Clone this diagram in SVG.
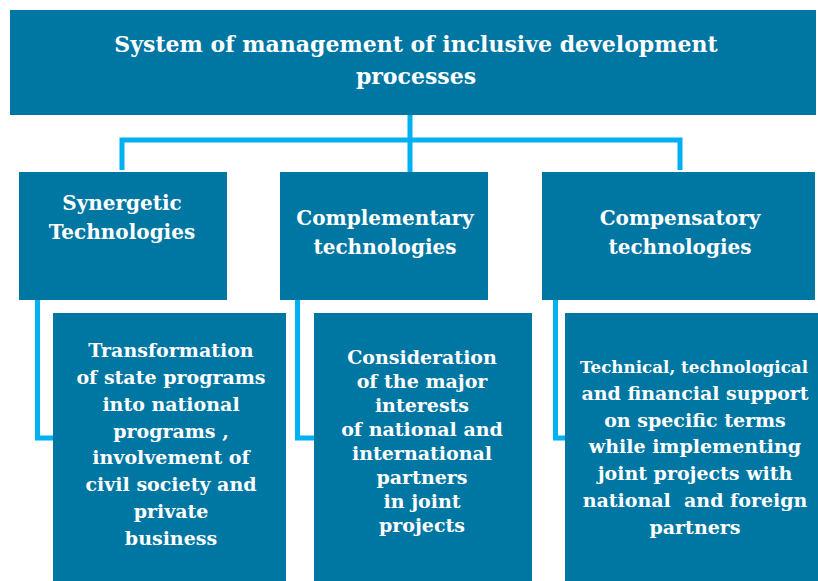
<svg xmlns="http://www.w3.org/2000/svg" width="818" height="581" viewBox="0 0 818 581">
<style>
.box{fill:#0076A3}
.t{font-family:"DejaVu Serif",serif;font-weight:bold;fill:#ffffff;text-anchor:middle;white-space:pre}
.title{font-size:22px}
.h{font-size:20px}
.d{font-size:19px}
.c{fill:none;stroke:#00B0F0;stroke-width:5}
</style>
<rect width="818" height="581" fill="#ffffff"/>
<g id="connectors">
<path class="c" d="M410 114 V172"/>
<path class="c" d="M122 170 V140 H680 V170"/>
<path class="c" d="M37.5 300 V438 H55"/>
<path class="c" d="M297.5 300 V438 H316"/>
<path class="c" d="M555.5 300 V438 H567"/>
</g>
<g id="root">
<rect class="box" x="10" y="10" width="806" height="105"/>
<text class="t title" x="416" y="52">System of management of inclusive development</text>
<text class="t title" x="416" y="84">processes</text>
</g>
<g id="synergetic">
<rect class="box" x="19" y="172" width="208" height="128"/>
<text class="t h" x="122" y="210">Synergetic</text>
<text class="t h" x="122" y="239">Technologies</text>
</g>
<g id="complementary">
<rect class="box" x="280" y="172" width="208" height="128"/>
<text class="t h" x="385" y="225">Complementary</text>
<text class="t h" x="385" y="254">technologies</text>
</g>
<g id="compensatory">
<rect class="box" x="542" y="172" width="273" height="128"/>
<text class="t h" x="680" y="225">Compensatory</text>
<text class="t h" x="680" y="254">technologies</text>
</g>
<g id="detail1">
<rect class="box" x="53" y="313" width="233" height="268"/>
<text class="t d" x="171" y="357">Transformation</text>
<text class="t d" x="171" y="384">of state programs</text>
<text class="t d" x="171" y="411">into national</text>
<text class="t d" x="171" y="438">programs ,</text>
<text class="t d" x="171" y="464">involvement of</text>
<text class="t d" x="171" y="491">civil society and</text>
<text class="t d" x="171" y="518">private</text>
<text class="t d" x="171" y="545">business</text>
</g>
<g id="detail2">
<rect class="box" x="314" y="313" width="218" height="268"/>
<text class="t d" x="422" y="364">Consideration</text>
<text class="t d" x="422" y="388">of the major</text>
<text class="t d" x="422" y="412">interests</text>
<text class="t d" x="422" y="436">of national and</text>
<text class="t d" x="422" y="460">international</text>
<text class="t d" x="422" y="484">partners</text>
<text class="t d" x="422" y="508">in joint</text>
<text class="t d" x="422" y="532">projects</text>
</g>
<g id="detail3">
<rect class="box" x="565" y="313" width="253" height="268"/>
<text class="t" style="font-size:17px" x="694" y="373" textLength="228" lengthAdjust="spacingAndGlyphs">Technical, technological</text>
<text class="t d" x="695" y="400">and financial support</text>
<text class="t d" x="695" y="427">on specific terms</text>
<text class="t d" x="695" y="453">while implementing</text>
<text class="t d" x="695" y="480">joint projects with</text>
<text class="t d" x="695" y="507">national  and foreign</text>
<text class="t d" x="695" y="534">partners</text>
</g>
</svg>
